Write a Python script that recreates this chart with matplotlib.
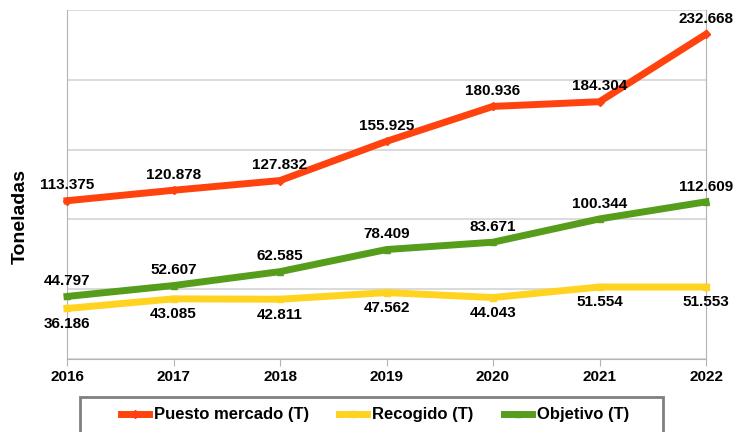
import matplotlib.pyplot as plt
from matplotlib.patches import Rectangle

# data
years = ['2016', '2017', '2018', '2019', '2020', '2021', '2022']
puesto_mercado = [113.375, 120.878, 127.832, 155.925, 180.936, 184.304, 232.668]
recogido = [36.186, 43.085, 42.811, 47.562, 44.043, 51.554, 51.553]
objetivo = [44.797, 52.607, 62.585, 78.409, 83.671, 100.344, 112.609]

plt.rcParams['font.family'] = ['Liberation Sans', 'DejaVu Sans']
plt.rcParams['font.weight'] = 'bold'

fig = plt.figure(figsize=(7.34, 4.32), dpi=100)
ax = fig.add_axes([67 / 734, 1 - 359 / 432, (706 - 67) / 734, (359 - 10) / 432])

x = list(range(len(years)))
grid_col = '#b3b3b3'

ax.plot(x, puesto_mercado, color='#ff420e', lw=5, marker='D', ms=4,
        label='Puesto mercado (T)', clip_on=False, zorder=3)
ax.plot(x, recogido, color='#ffd320', lw=5, marker='s', ms=4,
        label='Recogido (T)', clip_on=False, zorder=3)
ax.plot(x, objetivo, color='#579d1c', lw=5, marker='^', ms=5,
        label='Objetivo (T)', clip_on=False, zorder=3)

def fmt(v):
    return f'{v:.3f}'

# labels: above for Puesto mercado and Objetivo, below for Recogido
for xi, v in zip(x, puesto_mercado):
    ax.annotate(fmt(v), (xi, v), xytext=(0, 11), textcoords='offset points',
                ha='center', va='center', fontsize=11, fontweight='bold')
for xi, v in zip(x, objetivo):
    ax.annotate(fmt(v), (xi, v), xytext=(0, 11), textcoords='offset points',
                ha='center', va='center', fontsize=11, fontweight='bold')
for xi, v in zip(x, recogido):
    ax.annotate(fmt(v), (xi, v), xytext=(0, -11), textcoords='offset points',
                ha='center', va='center', fontsize=11, fontweight='bold')

ax.set_xlim(0, 6)
ax.set_ylim(0, 250)
ax.set_xticks(x)
ax.set_xticklabels(years, fontsize=11, fontweight='bold')
ax.set_yticks([0, 50, 100, 150, 200, 250])
ax.set_yticklabels([])
ax.tick_params(axis='y', length=0)
ax.tick_params(axis='x', length=5, color=grid_col, pad=3)
ax.grid(axis='y', color='#d4d4d4', lw=1.2)
for s in ax.spines.values():
    s.set_color(grid_col)
ax.spines['top'].set_visible(False)

ax.set_ylabel('Toneladas', fontsize=14, fontweight='bold')
ax.yaxis.set_label_coords(-38 / 639, (359 - 216) / 349)

# legend box drawn by hand, entries without frame
fig.patches.append(Rectangle((80 / 734, -0.1), (663 - 80) / 734, 0.1 + 1 - 397 / 432,
                             transform=fig.transFigure, fill=False,
                             edgecolor='#808080', lw=2))
fig.legend(loc='center', ncol=3, bbox_to_anchor=(375 / 734, 1 - 415 / 432),
           prop={'size': 12, 'weight': 'bold'}, frameon=False,
           handlelength=1.7, handletextpad=0.3, columnspacing=1.8,
           borderaxespad=0, borderpad=0)

fig.savefig('out.png', dpi=100)
